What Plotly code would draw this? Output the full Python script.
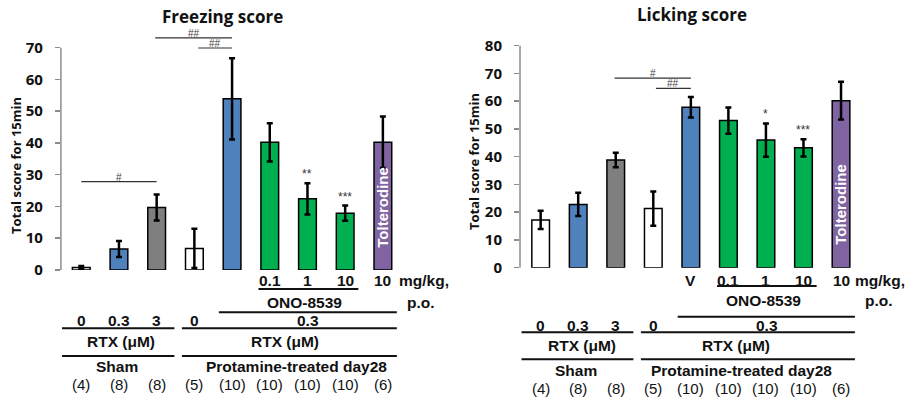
import plotly.graph_objects as go

# ---------------- data ----------------
positions = [1, 2, 3, 4, 5, 6, 7, 8, 9]
freezing_mean = [0.8, 6.6, 19.7, 6.8, 53.9, 40.2, 22.4, 17.9, 40.2]
freezing_sem = [0.45, 2.5, 4.1, 6.2, 12.8, 6.0, 4.9, 2.4, 8.1]
licking_mean = [17.2, 22.8, 38.8, 21.3, 57.8, 53.0, 46.0, 43.2, 60.2]
licking_sem = [3.3, 4.2, 2.6, 6.2, 3.7, 4.7, 6.0, 3.1, 6.8]
n_labels = ["(4)", "(8)", "(8)", "(5)", "(10)", "(10)", "(10)", "(10)", "(6)"]
freezing_dose = ["", "", "", "", "", "0.1", "1", "10", "10"]
licking_dose = ["", "", "", "", "V", "0.1", "1", "10", "10"]
rtx_dose = ["0", "0.3", "3", "0"]
freezing_stars = {7: "**", 8: "***"}
licking_stars = {7: "*", 8: "***"}
# (from, to, height, label)
freezing_sig = [(1, 3, 27.8, "#"), (2.96, 5, 73.1, "##"), (4.1, 5, 69.9, "##")]
licking_sig = [(2.97, 5, 68.3, "#"), (4.07, 5, 64.6, "##")]

WHITE, BLUE, GREY, GREEN, PURPLE = "#FFFFFF", "#4F81BD", "#7F7F7F", "#00B050", "#8064A2"
bar_colors = [WHITE, BLUE, GREY, WHITE, BLUE, GREEN, GREEN, GREEN, PURPLE]

W, H = 905, 400
def py(p):
    return 1 - p / H

BOLD_SANS = "Open Sans"
ARIAL = "Liberation Sans, Arial"

fig = go.Figure()

panels = [
    dict(xa="x", ya="y", mean=freezing_mean, sem=freezing_sem, yr=[0, 76], ymax=70,
         xdom=[60.9 / W, 443.2 / W], ydom=[py(270), py(28.65)], dose=freezing_dose,
         stars=freezing_stars, sig=freezing_sig, title="Freezing score", tx=222, ty=17,
         ytx=16, yty=166, tol_y=19.9, mg_x=9.37,
         rows=dict(dose=280, ono_line=289, ono=302.5, top_line=312.3, rtx=320,
                   g1=328.3, rtxl=341, g2=356, grp=366.5, n=384.5),
         rtxl_x=(2.05, 6.4), grp_x=(1.95, 6.7)),
    dict(xa="x2", ya="y2", mean=licking_mean, sem=licking_sem, yr=[0, 85], ymax=80,
         xdom=[520.0 / W, 901.1 / W], ydom=[py(267.7), py(31.8)], dose=licking_dose,
         stars=licking_stars, sig=licking_sig, title="Licking score", tx=692, ty=15,
         ytx=474, yty=162, tol_y=22.7, mg_x=9.32,
         rows=dict(dose=280, ono_line=286, ono=300, top_line=316.7, rtx=325,
                   g1=332.3, rtxl=345, g2=359.3, grp=370, n=388),
         rtxl_x=(2.09, 6.2), grp_x=(1.94, 6.36)),
]

annotations = []
shapes = []

def ann(**kw):
    kw.setdefault("showarrow", False)
    kw.setdefault("xanchor", "center")
    kw.setdefault("yanchor", "middle")
    annotations.append(kw)

for i, p in enumerate(panels):
    xa, ya = p["xa"], p["ya"]
    fig.add_trace(go.Bar(
        x=positions, y=p["mean"], width=0.47, xaxis=xa, yaxis=ya,
        marker=dict(color=bar_colors, line=dict(color="black", width=1.5)),
        error_y=dict(type="data", array=p["sem"], color="black", thickness=2.5, width=3),
        showlegend=False, hoverinfo="skip",
    ))
    sfx = "" if i == 0 else "2"
    fig.layout["xaxis" + sfx] = dict(domain=p["xdom"], range=[0.46 if i == 0 else 0.45, 10.6],
                                     visible=False, anchor=ya, fixedrange=True, automargin=False)
    fig.layout["yaxis" + sfx] = dict(
        domain=p["ydom"], range=p["yr"], anchor=xa, automargin=False, fixedrange=True,
        tickvals=list(range(0, p["ymax"] + 1, 10)),
        ticks="outside", ticklen=5, tickwidth=1.5, tickcolor="#8c8c8c",
        showgrid=False, zeroline=False, showline=False, ticklabelstandoff=9,
        tickfont=dict(family=BOLD_SANS, size=15, color="#111", weight="bold"),
    )
    shapes.append(dict(type="line", xref=xa + " domain", yref=ya, x0=0, x1=0, y0=0, y1=p["ymax"],
                       line=dict(color="#8c8c8c", width=1.5)))
    ann(xref="paper", yref="paper", x=p["tx"] / W, y=py(p["ty"]),
        text="<b>" + p["title"] + "</b>", font=dict(family=BOLD_SANS, size=17, color="#111"))
    ann(xref="paper", yref="paper", x=p["ytx"] / W, y=py(p["yty"]),
        text="<b>Total score for 15min</b>", textangle=-90,
        font=dict(family=BOLD_SANS, size=13, color="#111"))
    ann(xref=xa, yref=ya, x=9, y=p["tol_y"], text="<b>Tolterodine</b>", textangle=-90,
        font=dict(family=ARIAL, size=15, color="white"))
    for k, s in p["stars"].items():
        ann(xref=xa, yref=ya, x=k, y=p["mean"][k - 1] + p["sem"][k - 1], text=s,
            yanchor="bottom", font=dict(family=ARIAL, size=12, color="#333"))
    for (a, b, h, lab) in p["sig"]:
        shapes.append(dict(type="line", xref=xa, yref=ya, x0=a, x1=b, y0=h, y1=h,
                           line=dict(color="#333", width=1.2)))
        ann(xref=xa, yref=ya, x=(a + b) / 2, y=h, text=lab, yanchor="bottom", yshift=-3,
            font=dict(family=ARIAL, size=10, color="#444"))
    r = p["rows"]
    bf = dict(family=ARIAL, size=15.5, color="#111")
    for k, d in enumerate(p["dose"]):
        if d:
            ann(xref=xa, yref="paper", x=positions[k], y=py(r["dose"]), text="<b>" + d + "</b>", font=bf)
    ann(xref=xa, yref="paper", x=p["mg_x"], y=py(r["dose"]), xanchor="left", text="<b>mg/kg,</b>", font=bf)
    ann(xref=xa, yref="paper", x=10.0, y=py(r["ono"]), text="<b>p.o.</b>", font=bf)
    shapes.append(dict(type="line", xref=xa, yref="paper", x0=5.7, x1=8.35,
                       y0=py(r["ono_line"]), y1=py(r["ono_line"]), line=dict(color="#111", width=2)))
    ann(xref=xa, yref="paper", x=6.93, y=py(r["ono"]), text="<b>ONO-8539</b>", font=bf)
    shapes.append(dict(type="line", xref=xa, yref="paper", x0=4.65, x1=9.37,
                       y0=py(r["top_line"]), y1=py(r["top_line"]), line=dict(color="#111", width=2)))
    for k, d in enumerate(rtx_dose):
        ann(xref=xa, yref="paper", x=positions[k], y=py(r["rtx"]), text="<b>" + d + "</b>", font=bf)
    ann(xref=xa, yref="paper", x=7.02, y=py(r["rtx"]), text="<b>0.3</b>", font=bf)
    for (a, b) in [(0.49, 3.47), (3.67, 9.37)]:
        for key in ("g1", "g2"):
            shapes.append(dict(type="line", xref=xa, yref="paper", x0=a, x1=b,
                               y0=py(r[key]), y1=py(r[key]), line=dict(color="#111", width=2)))
    for xx in p["rtxl_x"]:
        ann(xref=xa, yref="paper", x=xx, y=py(r["rtxl"]), text="<b>RTX (μM)</b>", font=bf)
    ann(xref=xa, yref="paper", x=p["grp_x"][0], y=py(r["grp"]), text="<b>Sham</b>", font=bf)
    ann(xref=xa, yref="paper", x=p["grp_x"][1], y=py(r["grp"]),
        text="<b>Protamine-treated day28</b>", font=bf)
    for k, nl in enumerate(n_labels):
        ann(xref=xa, yref="paper", x=positions[k], y=py(r["n"]), text=nl,
            font=dict(family=ARIAL, size=15, color="#111"))

fig.update_layout(
    width=W, height=H, margin=dict(l=0, r=0, t=0, b=0, autoexpand=False),
    paper_bgcolor="white", plot_bgcolor="rgba(0,0,0,0)",
    annotations=annotations, shapes=shapes, bargap=0, showlegend=False,
)

fig.write_html("out.html", config={"displayModeBar": False, "staticPlot": True},
               post_script="document.body.style.margin='0';document.body.style.overflow='hidden';")
